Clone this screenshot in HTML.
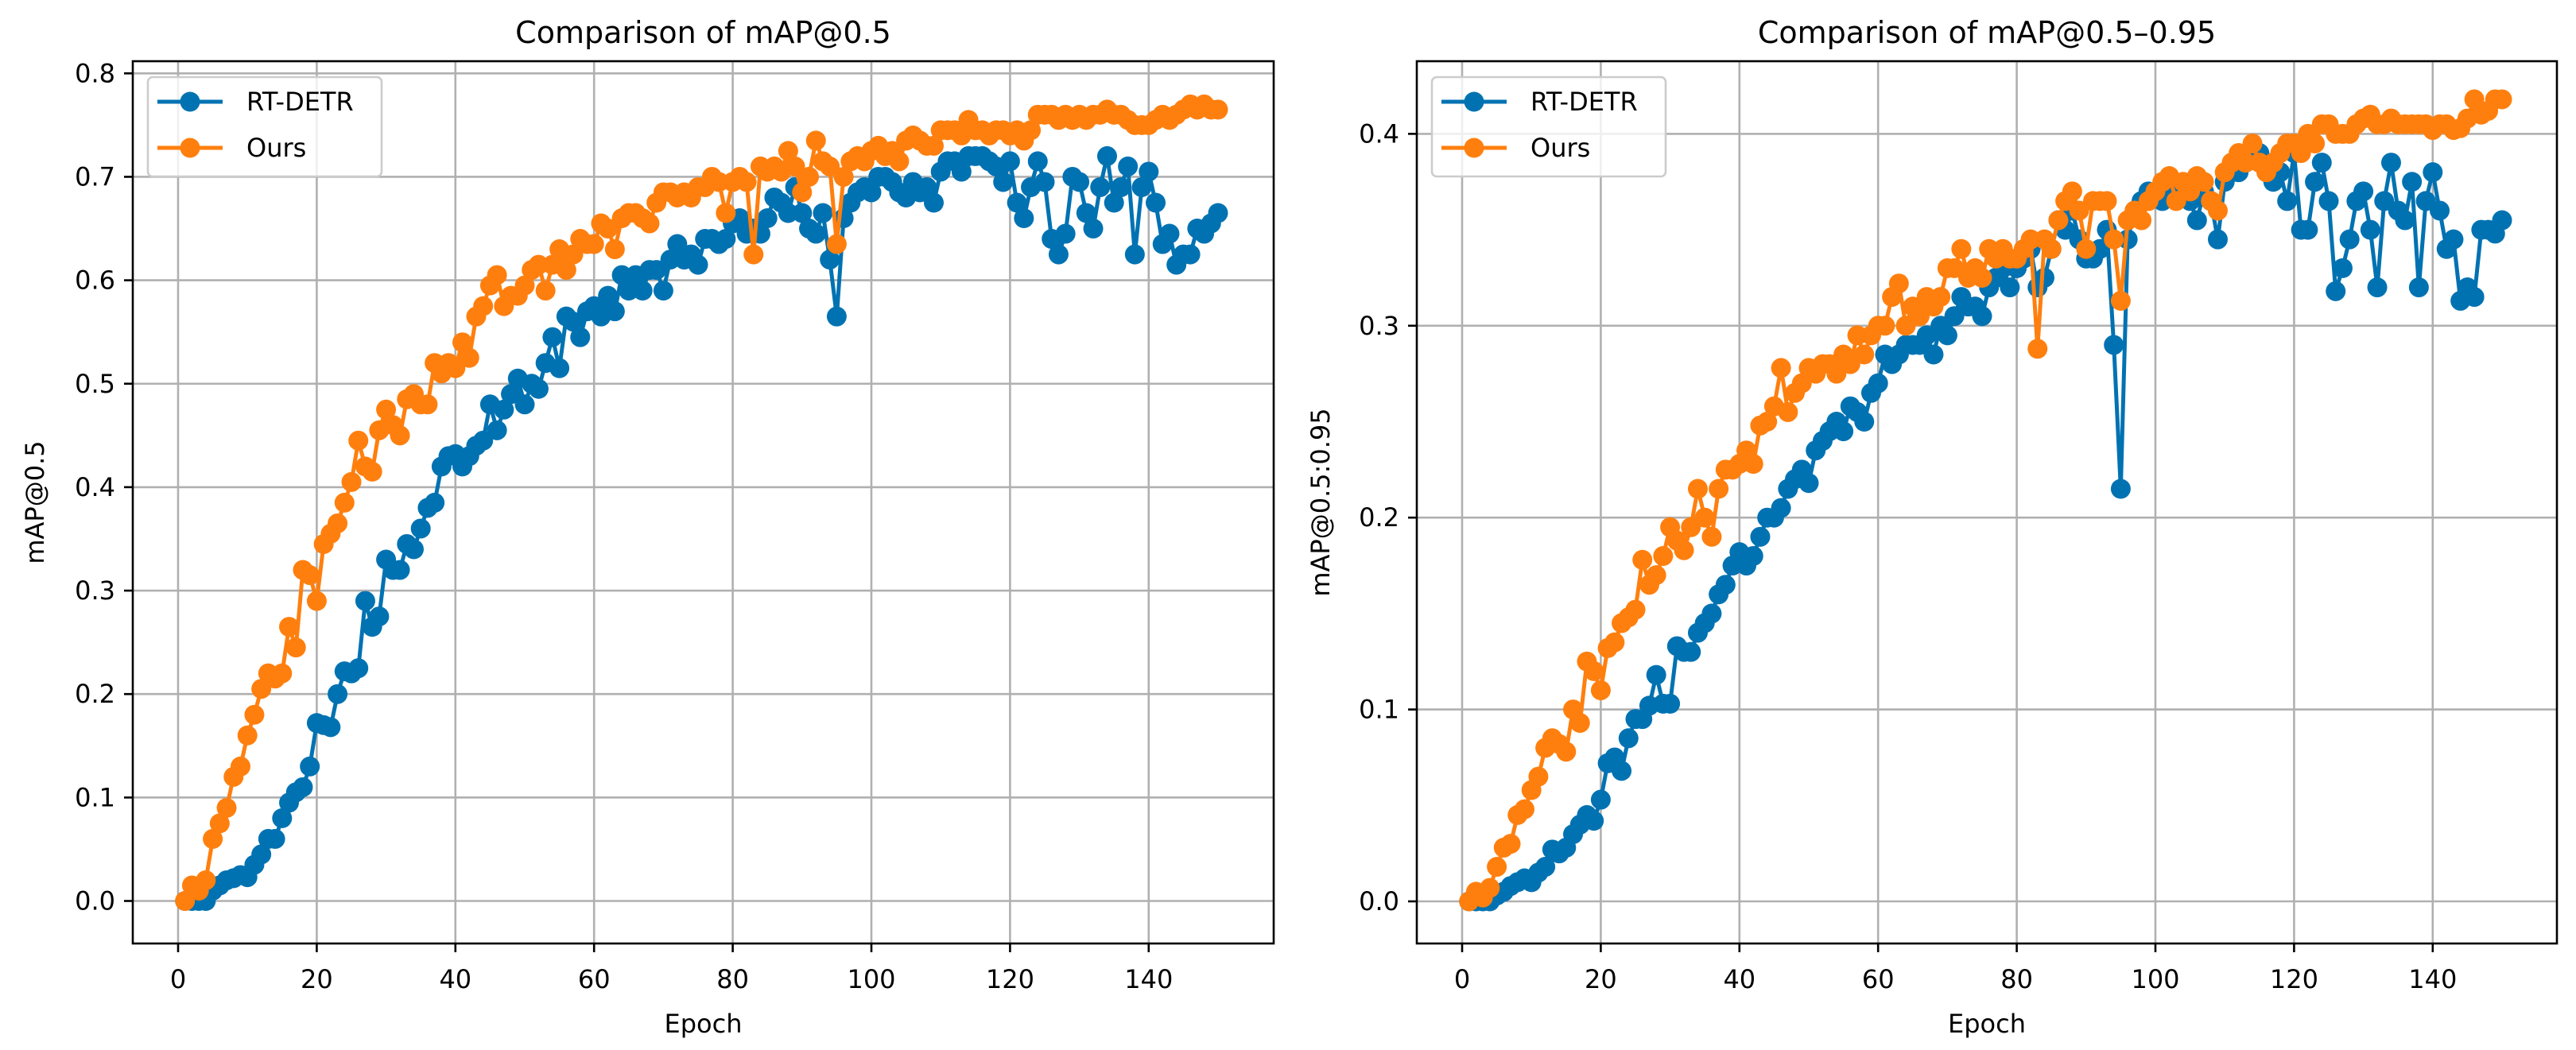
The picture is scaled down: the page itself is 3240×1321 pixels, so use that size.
<!DOCTYPE html>
<html><head><meta charset="utf-8"><style>
html,body{margin:0;padding:0;background:#fff}
svg{display:block;font-family:"DejaVu Sans","Liberation Sans",sans-serif}
</style></head><body>
<svg id="svg" width="3240" height="1321" viewBox="0 0 3240 1321" xmlns="http://www.w3.org/2000/svg"></svg>
<script>
const epochs = Array.from({length:150},(_,i)=>i+1);
const rtdetr50 = [0,0,0,0,0.01,0.015,0.02,0.022,0.025,0.023,0.035,0.045,0.06,0.06,0.08,0.095,0.105,0.11,0.13,0.172,0.17,0.168,0.2,0.222,0.22,0.225,0.29,0.265,0.275,0.33,0.32,0.32,0.345,0.34,0.36,0.38,0.385,0.42,0.43,0.432,0.42,0.43,0.44,0.445,0.48,0.455,0.475,0.49,0.505,0.48,0.5,0.495,0.52,0.545,0.515,0.565,0.56,0.545,0.57,0.575,0.565,0.585,0.57,0.605,0.59,0.605,0.59,0.61,0.61,0.59,0.62,0.635,0.62,0.625,0.615,0.64,0.64,0.635,0.64,0.655,0.66,0.645,0.65,0.645,0.66,0.68,0.675,0.665,0.69,0.665,0.65,0.645,0.665,0.62,0.565,0.66,0.675,0.685,0.69,0.685,0.7,0.7,0.695,0.685,0.68,0.695,0.685,0.69,0.675,0.705,0.715,0.715,0.705,0.72,0.72,0.72,0.715,0.71,0.695,0.715,0.675,0.66,0.69,0.715,0.695,0.64,0.625,0.645,0.70,0.695,0.665,0.65,0.69,0.72,0.675,0.69,0.71,0.625,0.69,0.705,0.675,0.635,0.645,0.615,0.625,0.625,0.65,0.645,0.655,0.665];
const ours50 = [0,0.015,0.01,0.02,0.06,0.075,0.09,0.12,0.13,0.16,0.18,0.205,0.22,0.215,0.22,0.265,0.245,0.32,0.315,0.29,0.345,0.355,0.365,0.385,0.405,0.445,0.42,0.415,0.455,0.475,0.46,0.45,0.485,0.49,0.48,0.48,0.52,0.51,0.52,0.515,0.54,0.525,0.565,0.575,0.595,0.605,0.575,0.585,0.585,0.595,0.61,0.615,0.59,0.615,0.63,0.61,0.625,0.64,0.635,0.635,0.655,0.65,0.63,0.66,0.665,0.665,0.66,0.655,0.675,0.685,0.685,0.68,0.685,0.68,0.69,0.69,0.70,0.695,0.665,0.695,0.70,0.695,0.625,0.71,0.705,0.71,0.705,0.725,0.71,0.685,0.70,0.735,0.715,0.71,0.635,0.70,0.715,0.72,0.715,0.725,0.73,0.72,0.725,0.715,0.735,0.74,0.735,0.73,0.73,0.745,0.745,0.745,0.74,0.755,0.745,0.745,0.74,0.745,0.745,0.74,0.745,0.735,0.745,0.76,0.76,0.76,0.755,0.76,0.755,0.76,0.755,0.76,0.76,0.765,0.76,0.76,0.755,0.75,0.75,0.75,0.755,0.76,0.755,0.76,0.765,0.77,0.765,0.77,0.765,0.765];
const rtdetr5095 = [0,0,0,0,0.003,0.005,0.008,0.01,0.012,0.01,0.015,0.018,0.027,0.025,0.028,0.035,0.04,0.045,0.042,0.053,0.072,0.075,0.068,0.085,0.095,0.095,0.102,0.118,0.103,0.103,0.133,0.13,0.13,0.14,0.145,0.15,0.16,0.165,0.175,0.182,0.175,0.18,0.19,0.2,0.2,0.205,0.215,0.22,0.225,0.218,0.235,0.24,0.245,0.25,0.245,0.258,0.255,0.25,0.265,0.27,0.285,0.28,0.285,0.29,0.29,0.29,0.295,0.285,0.3,0.295,0.305,0.315,0.31,0.31,0.305,0.32,0.325,0.33,0.32,0.33,0.335,0.34,0.32,0.325,0.34,0.355,0.35,0.36,0.345,0.335,0.335,0.34,0.35,0.29,0.215,0.345,0.36,0.365,0.37,0.37,0.365,0.375,0.37,0.37,0.365,0.355,0.37,0.365,0.345,0.375,0.38,0.38,0.385,0.39,0.39,0.385,0.375,0.38,0.365,0.39,0.35,0.35,0.375,0.385,0.365,0.318,0.33,0.345,0.365,0.37,0.35,0.32,0.365,0.385,0.36,0.355,0.375,0.32,0.365,0.38,0.36,0.34,0.345,0.313,0.32,0.315,0.35,0.35,0.348,0.355];
const ours5095 = [0,0.005,0.002,0.007,0.018,0.028,0.03,0.045,0.048,0.058,0.065,0.08,0.085,0.082,0.078,0.1,0.093,0.125,0.12,0.11,0.132,0.135,0.145,0.148,0.152,0.178,0.165,0.17,0.18,0.195,0.188,0.183,0.195,0.215,0.2,0.19,0.215,0.225,0.225,0.228,0.235,0.228,0.248,0.25,0.258,0.278,0.255,0.265,0.27,0.278,0.275,0.28,0.28,0.275,0.285,0.28,0.295,0.285,0.295,0.3,0.3,0.315,0.322,0.3,0.31,0.305,0.315,0.31,0.315,0.33,0.33,0.34,0.325,0.33,0.325,0.34,0.335,0.34,0.335,0.335,0.34,0.345,0.288,0.345,0.34,0.355,0.365,0.37,0.36,0.34,0.365,0.365,0.365,0.345,0.313,0.355,0.36,0.355,0.365,0.37,0.375,0.378,0.365,0.375,0.37,0.378,0.375,0.365,0.36,0.38,0.385,0.39,0.385,0.395,0.385,0.38,0.385,0.39,0.395,0.395,0.39,0.4,0.395,0.405,0.405,0.4,0.4,0.4,0.405,0.408,0.41,0.405,0.405,0.408,0.405,0.405,0.405,0.405,0.405,0.402,0.405,0.405,0.402,0.403,0.408,0.418,0.41,0.412,0.418,0.418];
const xTicks = [0,20,40,60,80,100,120,140];
const yTicksL = [0,0.1,0.2,0.3,0.4,0.5,0.6,0.7,0.8];
const yTicksR = [0,0.1,0.2,0.3,0.4];
const seriesNames = ["RT-DETR","Ours"];
const BLUE="#0072b2", ORANGE="#ff7f0e";
const NS="http://www.w3.org/2000/svg";
const svg=document.getElementById('svg');
function mk(tag,attrs,parent){const e=document.createElementNS(NS,tag);for(const k in attrs)e.setAttribute(k,attrs[k]);(parent||svg).appendChild(e);return e;}

function panel(cfg){
  const g=mk('g',{});
  
  
  const xs=e=>cfg.x0+e*8.72;
  const ys=v=>cfg.y0-v*cfg.ppu;
  const L=cfg.left,R=cfg.right,T=77,B=1187;
  xTicks.forEach(t=>{const l=mk('line',{x1:xs(t),x2:xs(t),y1:T,y2:B,stroke:'#b0b0b0','stroke-width':2.6},g);
    });
  cfg.yt.forEach(t=>{const l=mk('line',{x1:L,x2:R,y1:ys(t),y2:ys(t),stroke:'#b0b0b0','stroke-width':2.6},g);
    });
  [[cfg.a,BLUE,'rt-detr-series'],[cfg.b,ORANGE,'ours-series']].forEach(([d,c,n])=>{
    const sg=mk('g',{},g);
    
    const p=mk('polyline',{points:d.map((v,i)=>xs(epochs[i])+','+ys(v)).join(' '),fill:'none',stroke:c,'stroke-width':5,'stroke-linejoin':'round'},sg);
    
    d.forEach((v,i)=>{const m=mk('circle',{cx:xs(epochs[i]),cy:ys(v),r:12.5,fill:c},sg);
      });
  });
  const f=mk('rect',{x:L,y:T,width:R-L,height:B-T,fill:'none',stroke:'#000','stroke-width':2.6},g);
  
  xTicks.forEach(t=>{mk('line',{x1:xs(t),x2:xs(t),y1:B,y2:B+11,stroke:'#000','stroke-width':2.6},g);
    const tx=mk('text',{x:xs(t),y:B+56,'font-size':32,'text-anchor':'middle',fill:'#000'},g);tx.textContent=t;
    });
  cfg.yt.forEach(t=>{mk('line',{x1:L-11,x2:L,y1:ys(t),y2:ys(t),stroke:'#000','stroke-width':2.6},g);
    const tx=mk('text',{x:L-22,y:ys(t)+11,'font-size':32,'text-anchor':'end',fill:'#000'},g);tx.textContent=t.toFixed(1);
    });
  const ti=mk('text',{x:(L+R)/2,y:54,'font-size':38,'text-anchor':'middle',fill:'#000'},g);ti.textContent=cfg.title;
  
  const xl=mk('text',{x:(L+R)/2,y:1299,'font-size':32,'text-anchor':'middle',fill:'#000'},g);xl.textContent='Epoch';
  
  const yl=mk('text',{x:0,y:0,'font-size':32,'text-anchor':'middle',fill:'#000',transform:`translate(${cfg.ylx},${(T+B)/2}) rotate(-90)`},g);yl.textContent=cfg.ylabel;
  
  const lg=mk('g',{},g);
  
  mk('rect',{x:cfg.lx,y:97,width:294,height:125,rx:6,fill:'#fff','fill-opacity':0.8,stroke:'#cccccc','stroke-width':2.6},lg);
  [[BLUE,128],[ORANGE,186]].forEach(([c,y],k)=>{
    const e=mk('g',{},lg);
    
    mk('line',{x1:cfg.lx+12,x2:cfg.lx+94,y1:y,y2:y,stroke:c,'stroke-width':5},e);
    mk('circle',{cx:cfg.lx+53,cy:y,r:12.5,fill:c},e);
    const t=mk('text',{x:cfg.lx+124,y:y+11,'font-size':32,fill:'#000'},e);t.textContent=seriesNames[k];
  });
}
panel({name:'map50-chart',x0:224,y0:1133.5,ppu:1301.5,left:167,right:1602,yt:yTicksL,a:rtdetr50,b:ours50,title:'Comparison of mAP@0.5',ylabel:'mAP@0.5',ylx:55,lx:186});
panel({name:'map5095-chart',x0:1839,y0:1134,ppu:2414,left:1782,right:3216,yt:yTicksR,a:rtdetr5095,b:ours5095,title:'Comparison of mAP@0.5–0.95',ylabel:'mAP@0.5:0.95',ylx:1672,lx:1801});
</script>
</body></html>
